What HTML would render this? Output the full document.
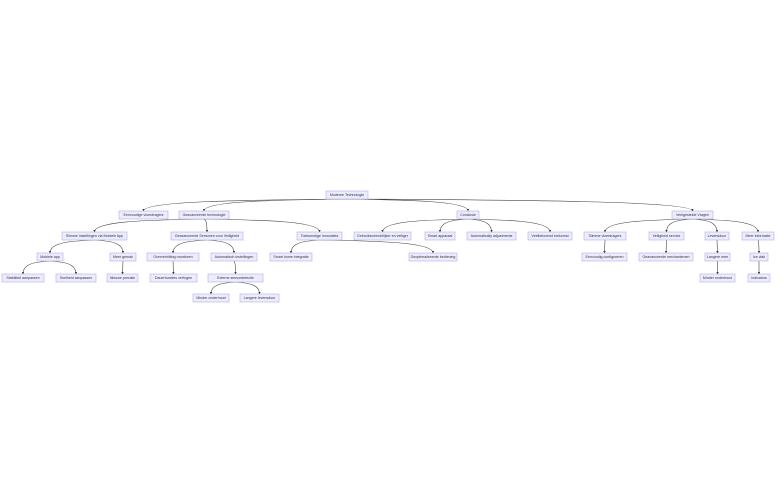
<!DOCTYPE html>
<html><head><meta charset="utf-8"><style>
html,body{margin:0;padding:0;background:#fff;width:784px;height:494px;overflow:hidden}
svg text{font-family:"Liberation Sans",sans-serif;font-size:3.6px;fill:#333;text-anchor:middle;dominant-baseline:central}
.n{fill:#ECECFF;stroke:#b8a9e8;stroke-width:0.6}
.e{fill:none;stroke:#444;stroke-width:0.6;marker-end:url(#a)}
</style></head><body>
<svg width="784" height="494" viewBox="0 0 784 494" xmlns="http://www.w3.org/2000/svg">
<defs><marker id="a" viewBox="0 0 6 6" refX="5" refY="3" markerWidth="4" markerHeight="4" orient="auto"><path d="M0,0L6,3L0,6z" fill="#333"/></marker></defs>
<g id="edges"></g>
<g id="nodes"></g>
</svg>
<script>
const N={
r:[326,368,195,"Moderne Technologie"],
a:[119,168,215,"Eenvoudige vloerdragers"],
b:[179,229,215,"Geavanceerde technologie"],
c:[457,479,215,"Conclusie"],
d:[672,713,215,"Veelgestelde Vragen"],
b1:[62,127,236,"Slimme Instellingen via Mobiele App"],
b2:[171,243,236,"Geavanceerde Sensoren voor Veiligheid"],
b3:[297,342,236,"Toekomstige Innovaties"],
c1:[354,411,236,"Gebruiksvriendelijker en veiliger"],
c2:[425,455,236,"Smart apparaat"],
c3:[467,516,236,"Automatically adjustments"],
c4:[528,572,236,"Veelbelovend toekomst"],
d1:[584,626,236,"Slimme vloerdragers"],
d2:[649,684,236,"Veiligheid service"],
d3:[705,729,236,"Levensduur"],
d4:[742,774,236,"Meer informatie"],
e1:[37,63,257,"Mobiele app"],
e2:[110,136,257,"Meer gemak"],
e3:[147,199,257,"Oververhitting monitoren"],
e4:[211,257,257,"Automatisch instellingen"],
e5:[270,312,257,"Smart home integratie"],
e6:[409,457,257,"Geoptimaliseerde bediening"],
e7:[582,627,257,"Eenvoudig configureren"],
e8:[639,693,257,"Geavanceerde mechanismen"],
e9:[705,730,257,"Langere mee"],
e10:[750,768,257,"Ice vlak"],
f1:[2,44,278,"Stabiliteit aanpassen"],
f2:[56,96,278,"Snelheid aanpassen"],
f3:[107,138,278,"Nieuwe precisie"],
f4:[150,197,278,"Dauerfuncties verfugen"],
f5:[208,263,278,"Externe sensordetectie"],
f6:[700,735,278,"Minder onderhoud"],
f7:[748,770,278,"Indicators"],
g1:[193,229,298,"Minder onderhoud"],
g2:[240,279,298,"Langere levensduur"]};
const E=[["r","a"],["r","b"],["r","c"],["r","d"],["b","b1"],["b","b2"],["b","b3"],["c","c1"],["c","c2"],["c","c3"],["c","c4"],["d","d1"],["d","d2"],["d","d3"],["d","d4"],["b1","e1"],["b1","e2"],["b2","e3"],["b2","e4"],["b3","e5"],["b3","e6"],["d1","e7"],["d2","e8"],["d3","e9"],["d4","e10"],["e1","f1"],["e1","f2"],["e2","f3"],["e3","f4"],["e4","f5"],["e9","f6"],["e10","f7"],["f5","g1"],["f5","g2"]];
const ns="http://www.w3.org/2000/svg";
const eg=document.getElementById("edges"),ng=document.getElementById("nodes");
for(const[s,t]of E){const A=N[s],B=N[t];const x1=(A[0]+A[1])/2,y1=A[2]+4,x2=(B[0]+B[1])/2,y2=B[2]-4;
const p=document.createElementNS(ns,"path");
p.setAttribute("d",Math.abs(x2-x1)<1?`M${x1},${y1}L${x2},${y2}`:`M${x1},${y1}C${x1+(x2-x1)*0.5},${y1+1} ${x2},${y1+2} ${x2},${y2}`);
p.setAttribute("class","e");eg.appendChild(p);}
for(const k in N){const[x1,x2,y,t]=N[k];const r=document.createElementNS(ns,"rect");
r.setAttribute("x",x1);r.setAttribute("y",y-4);r.setAttribute("width",x2-x1);r.setAttribute("height",8);r.setAttribute("class","n");ng.appendChild(r);
const tx=document.createElementNS(ns,"text");tx.setAttribute("x",(x1+x2)/2);tx.setAttribute("y",y);tx.textContent=t;ng.appendChild(tx);}
</script>
</body></html>
